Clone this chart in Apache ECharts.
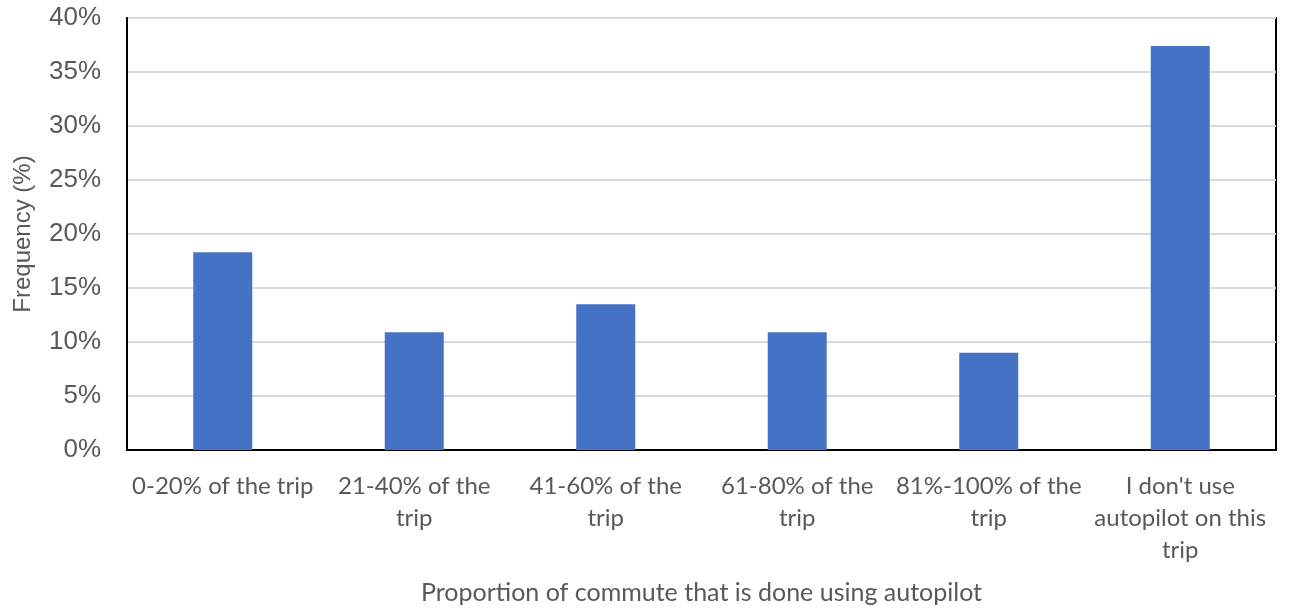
<!DOCTYPE html>
<html><head><meta charset="utf-8">
<script src="https://cdn.jsdelivr.net/npm/echarts@6/dist/echarts.min.js"></script>
<style>html,body{margin:0;padding:0;background:#fff}#c{width:1289px;height:612px}</style>
</head><body><div id="c"></div>
<script>
const categories = ["0-20% of the trip", "21-40% of the\ntrip", "41-60% of the\ntrip", "61-80% of the\ntrip", "81%-100% of the\ntrip", "I don't use\nautopilot on this\ntrip"];
const frequency = [18.3, 10.9, 13.5, 10.9, 9.0, 37.4];
const yTicks = [0, 5, 10, 15, 20, 25, 30, 35, 40];

const chart = echarts.init(document.getElementById('c'), null, {renderer: 'canvas'});
chart.setOption({
  animation: false,
  grid: {left: 127, right: 13, top: 18, bottom: 162, outerBoundsMode: 'none', containLabel: false, show: true, borderColor: '#000', borderWidth: 2, backgroundColor: 'transparent'},
  xAxis: {
    type: 'category', data: categories,
    axisLine: {lineStyle: {color: '#000', width: 2}},
    axisTick: {show: false},
    axisLabel: {color: '#595959', fontFamily: 'Lato, "Open Sans", sans-serif', fontSize: 24, lineHeight: 32, margin: 20, interval: 0},
    name: 'Proportion of commute that is done using autopilot',
    nameLocation: 'middle', nameGap: 130,
    nameTextStyle: {color: '#595959', fontFamily: 'Lato, "Open Sans", sans-serif', fontSize: 25}
  },
  yAxis: {
    type: 'value', min: 0, max: 40, interval: 5,
    axisLine: {show: true, lineStyle: {color: '#000', width: 2}},
    splitLine: {lineStyle: {color: '#d9d9d9', width: 2}},
    axisLabel: {color: '#595959', fontFamily: '"Liberation Sans", Arial, sans-serif', fontSize: 26, margin: 26,
      formatter: v => yTicks.includes(v) ? v + '%' : ''},
    name: 'Frequency (%)', nameLocation: 'middle', nameGap: 92, nameRotate: 90,
    nameTextStyle: {color: '#595959', fontFamily: '"Liberation Sans", Arial, sans-serif', fontSize: 24}
  },
  series: [{
    type: 'bar', data: frequency, barWidth: 59,
    itemStyle: {color: '#4472c4'}
  }]
});
</script></body></html>
